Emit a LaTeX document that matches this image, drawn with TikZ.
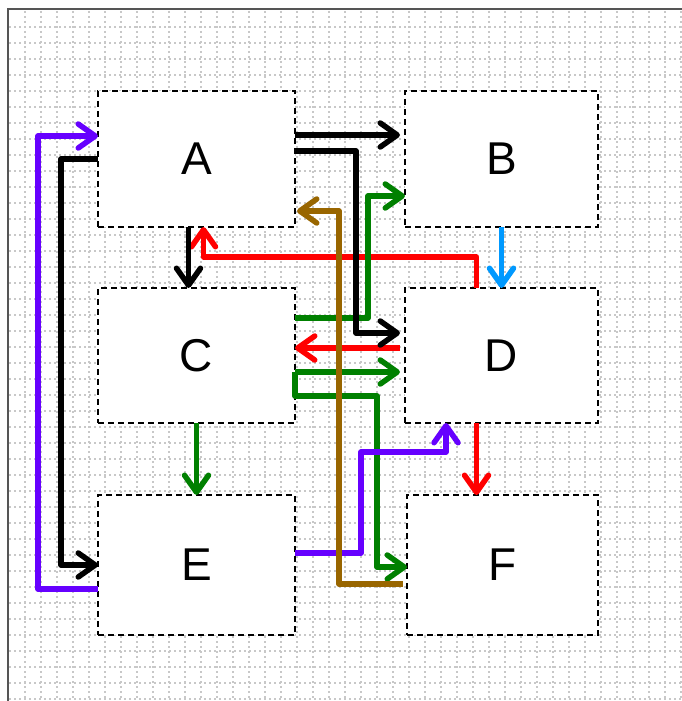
\documentclass[tikz,border=0pt]{standalone}
\usepackage{fontspec}
\setmainfont{Liberation Sans}
\usetikzlibrary{arrows.meta}
\definecolor{cpurple}{RGB}{102,0,255}
\definecolor{cgreen}{RGB}{0,128,0}
\definecolor{cbrown}{RGB}{153,102,0}
\definecolor{cblue}{RGB}{0,153,255}
\definecolor{cred}{RGB}{255,0,0}
\definecolor{cgrid}{RGB}{200,200,200}
\definecolor{cframe}{RGB}{85,85,85}
\begin{document}
\begin{tikzpicture}[x=1pt,y=-1pt,
  box/.style={draw=black, dash pattern=on 6pt off 4pt, line width=1.5pt, fill=white,
    inner sep=0pt, outer sep=0pt, font=\fontsize{46}{50}\selectfont},
  conn/.style={line width=5.5pt, line join=round,
    -{Straight Barb[length=17pt,width=24pt,round]}},
  gridline/.style={cgrid, line width=1.2pt, dash pattern=on 2pt off 3pt}]
% canvas
\fill[white] (0,0) rectangle (682,701);
\useasboundingbox (0,0) rectangle (682,701);
% grid
\foreach \gx in {25,41,...,681} \draw[gridline] (\gx,11) -- (\gx,701);
\foreach \gy in {27,43,...,699} \draw[gridline] (9,\gy) -- (682,\gy);
% frame
\draw[cframe, line width=2pt] (8,701) -- (8,9) -- (682,9);
% boxes
\node[box, minimum width=197pt, minimum height=136pt] (A) at (196.5,159) {A};
\node[box, minimum width=193pt, minimum height=136pt] (B) at (501.5,159) {B};
\node[box, minimum width=197pt, minimum height=135pt] (C) at (196.5,355.5) {C};
\node[box, minimum width=193pt, minimum height=135pt] (D) at (501.5,355.5) {D};
\node[box, minimum width=197pt, minimum height=140pt] (E) at (196.5,565) {E};
\node[box, minimum width=191pt, minimum height=140pt] (F) at (502.5,565) {F};
% red connectors
\draw[conn, cred] ([xshift=-25pt]D.north) -- ++(0,-31) -| ([xshift=7pt]A.south);
\draw[conn, cred] ([xshift=-5pt,yshift=7.5pt]D.west) -- ([yshift=7.5pt]C.east);
\draw[conn, cred] ([xshift=-25pt]D.south) -- ([xshift=-26pt]F.north);
% blue
\draw[conn, cblue] (B.south) -- (D.north);
% green connectors
\draw[conn, cgreen] ([yshift=37.5pt]C.east) -- ++(73,0) |- ([yshift=-37pt]B.west);
\draw[conn, cgreen] ([yshift=-16.5pt]C.east) -- ([xshift=-5pt,yshift=-16.5pt]D.west);
\draw[conn, cgreen] ([yshift=-16.5pt]C.east) -- ([yshift=-40.5pt]C.east) -- ++(82,0) |- ([yshift=-2pt]F.west);
\draw[conn, cgreen] (C.south) -- (E.north);
% purple connectors
\draw[conn, cpurple] ([yshift=-24pt]E.west) -- ++(-60,0) |- ([yshift=23pt]A.west);
\draw[conn, cpurple] ([yshift=12pt]E.east) -- ++(66,0) -- ++(0,-101) -| ([xshift=-55.5pt]D.south);
% black connectors
\draw[conn, black] (A.west) -- ++(-37,0) |- (E.west);
\draw[conn, black] ([yshift=24pt]A.east) -- ([xshift=-5pt,yshift=24pt]B.west);
\draw[conn, black] ([yshift=8pt]A.east) -- ++(61,0) |- ([xshift=-5pt,yshift=22.5pt]D.west);
\draw[conn, black] ([xshift=-8pt]A.south) -- ([xshift=-8pt]C.north);
% brown
\draw[conn, cbrown] ([xshift=-4pt,yshift=-19pt]F.west) -- ++(-64,0) |- ([xshift=2pt,yshift=-52pt]A.east);
\end{tikzpicture}
\end{document}
